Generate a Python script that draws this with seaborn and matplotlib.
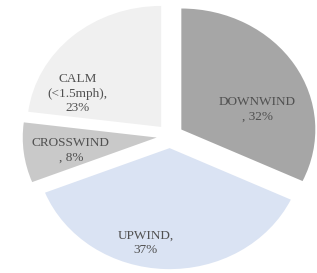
import matplotlib
matplotlib.use("Agg")
import matplotlib.pyplot as plt
import seaborn as sns

categories = ["DOWNWIND", "UPWIND", "CROSSWIND", "CALM\n(<1.5mph)"]
shares = [32, 37, 8, 23]
label_texts = ["DOWNWIND\n, 32%", "UPWIND,\n37%", "CROSSWIND\n, 8%", "CALM\n(<1.5mph),\n23%"]

colors = ["#a6a6a6", "#dae3f3", "#c9c9c9", "#f0f0f0"]
# where each label sits (data units)
label_pos = [(0.65, 0.22), (-0.18, -0.88), (-0.74, -0.12), (-0.69, 0.35)]

sns.set_theme(style="white")
plt.rcParams["font.family"] = ["Liberation Serif", "DejaVu Serif"]

fig = plt.figure(figsize=(3.17, 2.73), dpi=100)
ax = fig.add_axes([0, 0, 1, 1])

ax.pie(shares, colors=colors, startangle=90, counterclock=False,
       explode=[0.1] * len(shares), radius=1,
       wedgeprops=dict(linewidth=0))

for txt, (x, y) in zip(label_texts, label_pos):
    ax.text(x, y, txt, ha="center", va="center", fontsize=9.5,
            color="#505050", linespacing=1.25)

# the reference is a bit stretched horizontally
ax.set_aspect("auto")
ax.set_xlim(-1.269, 1.097)
ax.set_ylim(-1.132, 1.124)
ax.axis("off")

fig.savefig("out.png", dpi=100)
